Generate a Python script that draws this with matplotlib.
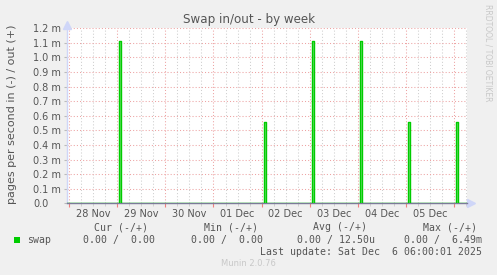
import numpy as np
import matplotlib
matplotlib.use("Agg")
import matplotlib.pyplot as plt
from matplotlib.patches import Rectangle
from matplotlib import transforms

# days counted from 28 Nov 00:00
day_labels = ['28 Nov', '29 Nov', '30 Nov', '01 Dec', '02 Dec', '03 Dec', '04 Dec', '05 Dec']
spike_day = [1, 4, 5, 6, 7, 8]
spike_hour = [1, 1, 1, 1, 1, 1]
spike_out = [1.11e-3, 0.556e-3, 1.11e-3, 1.11e-3, 0.556e-3, 0.556e-3]  # pages/s out
spike_len_h = 1.0

x_start, x_end = -0.045, 8.27

legend_cols = ['Cur (-/+)', 'Min (-/+)', 'Avg (-/+)', 'Max (-/+)']
legend_vals = ['0.00 /  0.00', '0.00 /  0.00', '0.00 / 12.50u', '0.00 /  6.49m']
last_update = 'Last update: Sat Dec  6 06:00:01 2025'

W, H = 497, 275
BG = '#f0f0f0'
TXT = '#555555'
GREEN = '#00cc00'
MGRID = '#eda3a3'
GRID = '#cfcfcf'
AXIS_BLUE = '#cfd6f8'

fig = plt.figure(figsize=(W / 100, H / 100), dpi=100, facecolor=BG)
ax = fig.add_axes([67 / W, (H - 203.3) / H, 400 / W, (203.3 - 28.3) / H])
ax.set_facecolor('white')

# build the step series: zero except the spikes
t = [x_start]
v = [0.0]
for d, h, val in zip(spike_day, spike_hour, spike_out):
    s = d + h / 24
    e = s + spike_len_h / 24
    t += [s, s, e, e]
    v += [0.0, val, val, 0.0]
t.append(x_end)
v.append(0.0)
t = np.array(t)
v = np.array(v)

ax.fill_between(t, 0, v, color='#72dd72', lw=0, zorder=2)
ax.plot(t, v, color=GREEN, lw=1.0, zorder=3)

ax.set_xlim(x_start, x_end)
ax.set_ylim(0, 1.2e-3)

# y axis
yt = np.arange(0, 13) * 1e-4
ylabels = ['0.0'] + ['%.1f m' % (k / 10) for k in range(1, 13)]
ax.set_yticks(yt, ylabels)
ax.tick_params(axis='y', length=2, width=0.8, color='#bbbbbb', pad=22.5,
               labelsize=7, labelcolor=TXT)
for lab in ax.get_yticklabels():
    lab.set_horizontalalignment('left')

# x axis: midnight major, 6h minor, labels at noon on secondary axis
midnights = np.arange(0, 9)
ax.set_xticks(midnights, [''] * len(midnights))
ax.set_xticks(np.arange(0, 8.5, 0.25), minor=True)
ax.tick_params(axis='x', which='major', length=3, width=0.8, color='#f08080', direction='out')
ax.tick_params(axis='x', which='minor', length=2, width=0.6, color='#cccccc', direction='out')

sec = ax.secondary_xaxis('bottom')
sec.set_xticks(np.arange(len(day_labels)) + 0.5, day_labels)
sec.tick_params(length=0, pad=4, labelsize=7, labelcolor=TXT)
sec.spines['bottom'].set_visible(False)

ax.grid(True, which='minor', axis='x', color=GRID, lw=0.75, ls=(0, (1, 2)), zorder=1)
ax.grid(True, which='major', axis='x', color=MGRID, lw=0.75, ls=(0, (1, 2)), zorder=1)
ax.grid(True, which='major', axis='y', color=MGRID, lw=0.75, ls=(0, (1, 2)), zorder=1)
ax.set_axisbelow(True)

for s in ['top', 'right']:
    ax.spines[s].set_visible(False)
ax.spines['left'].set_color(AXIS_BLUE)
ax.spines['left'].set_linewidth(1.0)
ax.spines['bottom'].set_color('#7a7a98')
ax.spines['bottom'].set_linewidth(1.0)

# axis arrows
up = transforms.offset_copy(ax.transAxes, fig=fig, x=0, y=3.5, units='dots')
ax.plot([0], [1], marker='^', ms=5.5, color=AXIS_BLUE, mec=AXIS_BLUE, transform=up, clip_on=False)
rt = transforms.offset_copy(ax.transAxes, fig=fig, x=4, y=0, units='dots')
ax.plot([1], [0], marker='>', ms=5.5, color=AXIS_BLUE, mec=AXIS_BLUE, transform=rt, clip_on=False)

# texts
def px(x, y):
    return x / W, 1 - y / H

fig.text(*px(249, 19), 'Swap in/out - by week', ha='center', va='center',
         fontsize=8.6, color=TXT)
fig.text(*px(12, 114), 'pages per second in (-) / out (+)', ha='center', va='center',
         rotation=90, fontsize=8.0, color=TXT)
fig.text(*px(488, 53), 'RRDTOOL / TOBI OETIKER', ha='center', va='center',
         rotation=270, fontsize=5.5, color='#c8c8c8')

mono = dict(family='DejaVu Sans Mono', fontsize=7.1, color=TXT, va='center')
head_x = [94, 203.7, 313.3, 422.7]
for x, s in zip(head_x, legend_cols):
    fig.text(*px(x, 227.3), s, ha='left', **mono)
fig.add_artist(Rectangle(px(14, 243), 6 / W, 6 / H, transform=fig.transFigure,
                         color=GREEN, lw=0))
fig.text(*px(26.7, 240), 'swap', ha='left', **mono)
val_x = [83.3, 190.7, 296.7, 404]
for x, s in zip(val_x, legend_vals):
    fig.text(*px(x, 240), s, ha='left', **mono)
fig.text(*px(482.3, 252), last_update, ha='right', **mono)
fig.text(*px(248, 264), 'Munin 2.0.76', ha='center', va='center', fontsize=6,
         color='#c8c8c8')

fig.savefig('out.png', dpi=100, facecolor=BG)
